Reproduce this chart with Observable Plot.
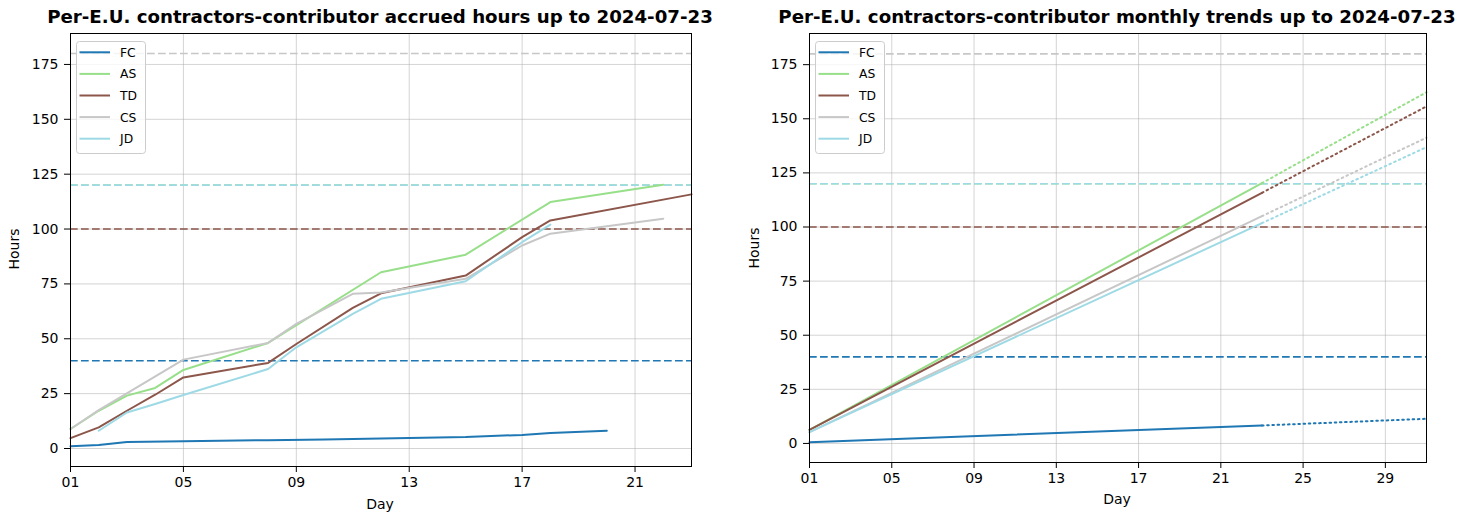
<!DOCTYPE html>
<html><head><meta charset="utf-8">
<script src="https://cdn.jsdelivr.net/npm/d3@7"></script>
<script src="https://cdn.jsdelivr.net/npm/@observablehq/plot@0.6"></script>
<style>
body{margin:0;background:#fff;}
#root{position:relative;width:1481px;height:516px;font-family:"DejaVu Sans",sans-serif;color:#000;overflow:hidden;}
.title{position:absolute;font-weight:bold;font-size:18.2px;line-height:1;white-space:nowrap;transform:translateX(-50%);}
.ylab{position:absolute;font-size:14px;line-height:1;white-space:nowrap;transform:translate(-50%,-50%) rotate(-90deg);}
.xlab{position:absolute;font-size:14px;line-height:1;white-space:nowrap;transform:translateX(-50%);}
.plot{position:absolute;top:0;}
.legend{position:absolute;}
</style>
</head><body>
<div id="root"></div>
<script>
// ---- data ----
const series = ["FC", "AS", "TD", "CS", "JD"];
const seriesColors = ["#1f77b4", "#98df8a", "#8c564b", "#c7c7c7", "#9edae5"];
const targetHours = [40, 120, 100, 180, 120];

const fcDays = [1, 2, 3, 5, 8, 10, 12, 15, 17, 18, 20];
const fcHours = [1.0, 1.6, 3.0, 3.3, 3.8, 4.1, 4.6, 5.2, 6.2, 7.1, 8.1];
const asDays = [1, 2, 3, 4, 5, 8, 12, 15, 18, 22];
const asHours = [8.9, 17.2, 24.1, 27.6, 35.8, 48.1, 80.3, 88.3, 112.3, 120.2];
const tdDays = [1, 2, 3, 4, 5, 8, 9, 11, 12, 15, 17, 18, 23];
const tdHours = [4.7, 9.6, 17.2, 24.5, 32.4, 39.0, 47.6, 64.1, 70.7, 78.8, 96.3, 103.9, 115.8];
const csDays = [1, 2, 5, 8, 9, 11, 12, 15, 17, 18, 22];
const csHours = [8.9, 17.5, 40.5, 48.1, 56.8, 70.5, 71.1, 77.3, 92.5, 97.9, 104.7];
const jdDays = [2, 3, 4, 5, 8, 9, 11, 12, 15, 17, 18];
const jdHours = [8.1, 16.4, 20.3, 24.4, 36.2, 46.1, 61.3, 68.2, 76.2, 94.0, 102.0];

// monthly trend: day 1, today (day 23), month end (day 31)
const trendDays = [1, 23, 31];
const trendStart = [0.6, 6.3, 6.3, 5.2, 5.2];
const trendToday = [8.3, 120.3, 115.8, 105.0, 101.8];
const trendMonthEnd = [11.4, 162.3, 155.7, 141.3, 136.9];

const yTicks = [0, 25, 50, 75, 100, 125, 150, 175];
const xTicksLeft = [1, 5, 9, 13, 17, 21];
const xTicksRight = [1, 5, 9, 13, 17, 21, 25, 29];

const titleLeft = "Per-E.U. contractors-contributor accrued hours up to 2024-07-23";
const titleRight = "Per-E.U. contractors-contributor monthly trends up to 2024-07-23";

// ---- build tables ----
const accruedSets = [[fcDays, fcHours], [asDays, asHours], [tdDays, tdHours], [csDays, csHours], [jdDays, jdHours]];
const accrued = [];
accruedSets.forEach(([ds, hs], i) => ds.forEach((d, j) => accrued.push({name: series[i], day: d, hours: hs[j]})));
const targets = series.map((s, i) => ({name: s, target: targetHours[i]}));
const trendSolid = [], trendDotted = [];
series.forEach((s, i) => {
  trendSolid.push({name: s, day: trendDays[0], hours: trendStart[i]});
  trendSolid.push({name: s, day: trendDays[1], hours: trendToday[i]});
  trendDotted.push({name: s, day: trendDays[1], hours: trendToday[i]});
  trendDotted.push({name: s, day: trendDays[2], hours: trendMonthEnd[i]});
});

const root = document.getElementById("root");
const fmt = d3.format("02d");

function commonMarks(xTicks) {
  return [
    Plot.gridX(xTicks, {stroke: "#b0b0b0", strokeOpacity: 0.55, strokeWidth: 1}),
    Plot.gridY(yTicks, {stroke: "#b0b0b0", strokeOpacity: 0.55, strokeWidth: 1}),
    Plot.ruleY(targets, {y: "target", stroke: "name", strokeWidth: 1.6, strokeDasharray: "7.7,3.3"}),
  ];
}
function axes(xTicks) {
  return [
    Plot.axisY(yTicks, {tickSize: 6, tickPadding: 6, label: null}),
    Plot.axisX(xTicks, {tickSize: 6, tickPadding: 5, tickFormat: fmt, label: null}),
    Plot.frame({stroke: "#000", strokeWidth: 1})
  ];
}
const style = {fontFamily: "DejaVu Sans, sans-serif", fontSize: "14px", background: "#fff", overflow: "visible"};

const left = Plot.plot({
  width: 740, height: 516,
  marginLeft: 70, marginRight: 49, marginTop: 33, marginBottom: 50,
  x: {domain: [1, 23]},
  y: {domain: [-8.2, 189.1]},
  color: {domain: series, range: seriesColors},
  style,
  marks: [
    ...commonMarks(xTicksLeft),
    Plot.line(accrued, {x: "day", y: "hours", z: "name", stroke: "name", strokeWidth: 2}),
    ...axes(xTicksLeft)
  ]
});
left.classList.add("plot");
left.style.left = "0px";
root.appendChild(left);

const right = Plot.plot({
  width: 741, height: 516,
  marginLeft: 69, marginRight: 55, marginTop: 33, marginBottom: 54,
  x: {domain: [1, 31]},
  y: {domain: [-8.8, 189.4]},
  color: {domain: series, range: seriesColors},
  style,
  marks: [
    ...commonMarks(xTicksRight),
    Plot.line(trendSolid, {x: "day", y: "hours", z: "name", stroke: "name", strokeWidth: 2}),
    Plot.line(trendDotted, {x: "day", y: "hours", z: "name", stroke: "name", strokeWidth: 2, strokeDasharray: "1.6,3.6"}),
    ...axes(xTicksRight)
  ]
});
right.classList.add("plot");
right.style.left = "740px";
root.appendChild(right);

// ---- texts ----
function addDiv(cls, text, x, y) {
  const d = document.createElement("div");
  d.className = cls; d.textContent = text;
  d.style.left = x + "px"; d.style.top = y + "px";
  root.appendChild(d);
}
addDiv("title", titleLeft, 380, 8);
addDiv("title", titleRight, 1117, 8);
addDiv("ylab", "Hours", 14, 249);
addDiv("ylab", "Hours", 754, 248);
addDiv("xlab", "Day", 380, 497);
addDiv("xlab", "Day", 1117, 492);

// ---- legends ----
function legend(x, y) {
  const svg = d3.select(root).append("svg").attr("class", "legend")
    .attr("width", 72).attr("height", 116)
    .style("left", x + "px").style("top", y + "px");
  svg.append("rect").attr("x", 0.5).attr("y", 0.5).attr("width", 69).attr("height", 112)
    .attr("rx", 3).attr("fill", "#fff").attr("fill-opacity", 0.8).attr("stroke", "#cccccc");
  const g = svg.selectAll("g").data(series).join("g")
    .attr("transform", (d, i) => `translate(0,${11.3 + i * 21.6})`);
  g.append("line").attr("x1", 3.5).attr("x2", 34).attr("stroke", (d, i) => seriesColors[i]).attr("stroke-width", 2);
  g.append("text").attr("x", 44).attr("dy", "0.36em").attr("font-size", 12.3)
    .attr("font-family", "DejaVu Sans, sans-serif").text(d => d);
}
legend(76, 41);
legend(815, 41);
</script>
</body></html>
